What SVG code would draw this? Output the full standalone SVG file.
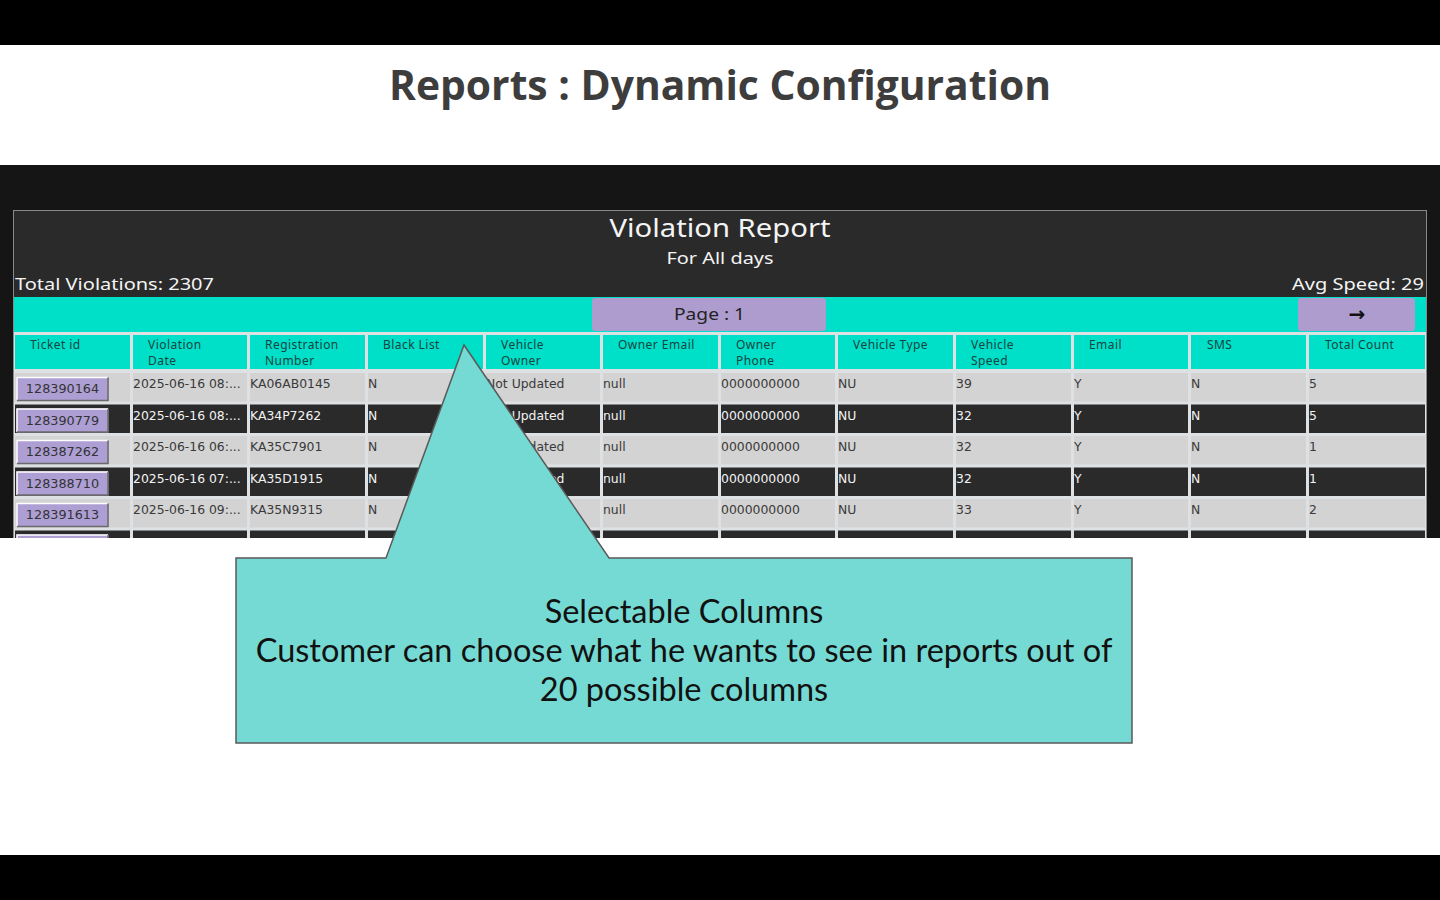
<svg xmlns="http://www.w3.org/2000/svg" width="1440" height="900" viewBox="0 0 1440 900">
<style>
.title{font-family:"Open Sans","DejaVu Sans",sans-serif;font-weight:700;font-size:41px;fill:#3d3d3d}
.hdr{font-family:"Noto Sans","Lato",sans-serif;font-size:12px;letter-spacing:0.45px;fill:#16453f}
.lt{font-family:"DejaVu Sans",sans-serif;font-size:12.4px;fill:#3a3a3a}
.dk{font-family:"DejaVu Sans",sans-serif;font-size:12.4px;fill:#f2f2f2}
.btn{font-family:"DejaVu Sans",sans-serif;font-size:12.8px;fill:#333;text-anchor:middle}
.wh{font-family:"Noto Sans","Lato",sans-serif;fill:#f4f4f4}
.cl{fill:#d3d3d3}
.cd{fill:#2a2a2a}
.th{fill:#00dfc8}
.call{font-family:"Lato","Noto Sans",sans-serif;font-size:32.5px;fill:#111;text-anchor:middle}
</style>
<defs>
<clipPath id="shot"><rect x="0" y="165" width="1440" height="373"/></clipPath>
<g id="button">
<rect x="0" y="0" width="92" height="24" fill="#ad9fd4"/>
<path d="M0.5 23.5 V0.5 H91.5" fill="none" stroke="#ffffff" stroke-width="1.5"/>
<path d="M0.5 23.5 H91.5 V0.5" fill="none" stroke="#6a6a6a" stroke-width="1.5"/>
</g>
</defs>
<rect x="0" y="0" width="1440" height="900" fill="#ffffff"/>
<rect x="0" y="0" width="1440" height="45" fill="#000"/>
<rect x="0" y="855" width="1440" height="45" fill="#000"/>
<text id="title" class="title" x="720" y="100" text-anchor="middle" textLength="662" lengthAdjust="spacingAndGlyphs">Reports : Dynamic Configuration</text>

<g id="screenshot" clip-path="url(#shot)">
<rect x="0" y="165" width="1440" height="373" fill="#151515"/>
<rect x="13.5" y="210.5" width="1413" height="340" fill="#2a2a2a" stroke="#8a8a8a" stroke-width="1"/>
<text class="wh" x="720" y="237" font-size="25" text-anchor="middle" textLength="221" lengthAdjust="spacingAndGlyphs">Violation Report</text>
<text class="wh" x="720" y="264" font-size="16" text-anchor="middle" textLength="107" lengthAdjust="spacingAndGlyphs">For All days</text>
<text class="wh" x="15" y="290" font-size="17" textLength="199" lengthAdjust="spacingAndGlyphs">Total Violations: 2307</text>
<text class="wh" x="1292" y="290" font-size="17" textLength="132" lengthAdjust="spacingAndGlyphs">Avg Speed: 29</text>
<rect x="14" y="297" width="1412" height="35" class="th"/>
<rect x="592" y="298" width="234" height="33" rx="3" fill="#ae9ccf"/>
<text x="674" y="320" font-family="'Noto Sans',Lato,sans-serif" font-size="16.5" fill="#222" textLength="71" lengthAdjust="spacingAndGlyphs">Page : 1</text>
<rect x="1298" y="298" width="117" height="33" rx="3" fill="#ae9ccf"/>
<text x="1357" y="321" font-family="'DejaVu Sans',sans-serif" font-size="20" font-weight="700" fill="#111" text-anchor="middle">→</text>
<rect x="14" y="332" width="1412" height="210" fill="#dde1e4"/>

<g id="headers">
<rect x="15" y="335" width="115" height="34" class="th"/>
<rect x="133" y="335" width="114" height="34" class="th"/>
<rect x="250" y="335" width="115" height="34" class="th"/>
<rect x="368" y="335" width="115" height="34" class="th"/>
<rect x="486" y="335" width="114" height="34" class="th"/>
<rect x="603" y="335" width="115" height="34" class="th"/>
<rect x="721" y="335" width="114" height="34" class="th"/>
<rect x="838" y="335" width="115" height="34" class="th"/>
<rect x="956" y="335" width="115" height="34" class="th"/>
<rect x="1074" y="335" width="114" height="34" class="th"/>
<rect x="1191" y="335" width="115" height="34" class="th"/>
<rect x="1309" y="335" width="116" height="34" class="th"/>
<text class="hdr" x="30" y="349">Ticket id</text>
<text class="hdr" x="148" y="349">Violation</text><text class="hdr" x="148" y="365">Date</text>
<text class="hdr" x="265" y="349">Registration</text><text class="hdr" x="265" y="365">Number</text>
<text class="hdr" x="383" y="349">Black List</text>
<text class="hdr" x="501" y="349">Vehicle</text><text class="hdr" x="501" y="365">Owner</text>
<text class="hdr" x="618" y="349">Owner Email</text>
<text class="hdr" x="736" y="349">Owner</text><text class="hdr" x="736" y="365">Phone</text>
<text class="hdr" x="853" y="349">Vehicle Type</text>
<text class="hdr" x="971" y="349">Vehicle</text><text class="hdr" x="971" y="365">Speed</text>
<text class="hdr" x="1089" y="349">Email</text>
<text class="hdr" x="1207" y="349">SMS</text>
<text class="hdr" x="1325" y="349">Total Count</text>
</g>

<g id="row1">
<rect x="15" y="373" width="115" height="28.5" class="cl"/><rect x="133" y="373" width="114" height="28.5" class="cl"/><rect x="250" y="373" width="115" height="28.5" class="cl"/><rect x="368" y="373" width="115" height="28.5" class="cl"/><rect x="486" y="373" width="114" height="28.5" class="cl"/><rect x="603" y="373" width="115" height="28.5" class="cl"/><rect x="721" y="373" width="114" height="28.5" class="cl"/><rect x="838" y="373" width="115" height="28.5" class="cl"/><rect x="956" y="373" width="115" height="28.5" class="cl"/><rect x="1074" y="373" width="114" height="28.5" class="cl"/><rect x="1191" y="373" width="115" height="28.5" class="cl"/><rect x="1309" y="373" width="116" height="28.5" class="cl"/>
<use href="#button" x="16.5" y="377"/>
<text class="btn" x="62.5" y="393">128390164</text>
<text class="lt" x="133" y="388">2025-06-16 08:...</text><text class="lt" x="250" y="388">KA06AB0145</text><text class="lt" x="368" y="388">N</text><text class="lt" x="486" y="388">Not Updated</text><text class="lt" x="603" y="388">null</text><text class="lt" x="721" y="388">0000000000</text><text class="lt" x="838" y="388">NU</text><text class="lt" x="956" y="388">39</text><text class="lt" x="1074" y="388">Y</text><text class="lt" x="1191" y="388">N</text><text class="lt" x="1309" y="388">5</text>
</g>

<g id="row2">
<rect x="15" y="404.5" width="115" height="28.5" class="cd"/><rect x="133" y="404.5" width="114" height="28.5" class="cd"/><rect x="250" y="404.5" width="115" height="28.5" class="cd"/><rect x="368" y="404.5" width="115" height="28.5" class="cd"/><rect x="486" y="404.5" width="114" height="28.5" class="cd"/><rect x="603" y="404.5" width="115" height="28.5" class="cd"/><rect x="721" y="404.5" width="114" height="28.5" class="cd"/><rect x="838" y="404.5" width="115" height="28.5" class="cd"/><rect x="956" y="404.5" width="115" height="28.5" class="cd"/><rect x="1074" y="404.5" width="114" height="28.5" class="cd"/><rect x="1191" y="404.5" width="115" height="28.5" class="cd"/><rect x="1309" y="404.5" width="116" height="28.5" class="cd"/>
<use href="#button" x="16.5" y="408.5"/>
<text class="btn" x="62.5" y="424.5">128390779</text>
<text class="dk" x="133" y="419.5">2025-06-16 08:...</text><text class="dk" x="250" y="419.5">KA34P7262</text><text class="dk" x="368" y="419.5">N</text><text class="dk" x="486" y="419.5">Not Updated</text><text class="dk" x="603" y="419.5">null</text><text class="dk" x="721" y="419.5">0000000000</text><text class="dk" x="838" y="419.5">NU</text><text class="dk" x="956" y="419.5">32</text><text class="dk" x="1074" y="419.5">Y</text><text class="dk" x="1191" y="419.5">N</text><text class="dk" x="1309" y="419.5">5</text>
</g>

<g id="row3">
<rect x="15" y="436" width="115" height="28.5" class="cl"/><rect x="133" y="436" width="114" height="28.5" class="cl"/><rect x="250" y="436" width="115" height="28.5" class="cl"/><rect x="368" y="436" width="115" height="28.5" class="cl"/><rect x="486" y="436" width="114" height="28.5" class="cl"/><rect x="603" y="436" width="115" height="28.5" class="cl"/><rect x="721" y="436" width="114" height="28.5" class="cl"/><rect x="838" y="436" width="115" height="28.5" class="cl"/><rect x="956" y="436" width="115" height="28.5" class="cl"/><rect x="1074" y="436" width="114" height="28.5" class="cl"/><rect x="1191" y="436" width="115" height="28.5" class="cl"/><rect x="1309" y="436" width="116" height="28.5" class="cl"/>
<use href="#button" x="16.5" y="440"/>
<text class="btn" x="62.5" y="456">128387262</text>
<text class="lt" x="133" y="451">2025-06-16 06:...</text><text class="lt" x="250" y="451">KA35C7901</text><text class="lt" x="368" y="451">N</text><text class="lt" x="486" y="451">Not Updated</text><text class="lt" x="603" y="451">null</text><text class="lt" x="721" y="451">0000000000</text><text class="lt" x="838" y="451">NU</text><text class="lt" x="956" y="451">32</text><text class="lt" x="1074" y="451">Y</text><text class="lt" x="1191" y="451">N</text><text class="lt" x="1309" y="451">1</text>
</g>

<g id="row4">
<rect x="15" y="467.5" width="115" height="28.5" class="cd"/><rect x="133" y="467.5" width="114" height="28.5" class="cd"/><rect x="250" y="467.5" width="115" height="28.5" class="cd"/><rect x="368" y="467.5" width="115" height="28.5" class="cd"/><rect x="486" y="467.5" width="114" height="28.5" class="cd"/><rect x="603" y="467.5" width="115" height="28.5" class="cd"/><rect x="721" y="467.5" width="114" height="28.5" class="cd"/><rect x="838" y="467.5" width="115" height="28.5" class="cd"/><rect x="956" y="467.5" width="115" height="28.5" class="cd"/><rect x="1074" y="467.5" width="114" height="28.5" class="cd"/><rect x="1191" y="467.5" width="115" height="28.5" class="cd"/><rect x="1309" y="467.5" width="116" height="28.5" class="cd"/>
<use href="#button" x="16.5" y="471.5"/>
<text class="btn" x="62.5" y="487.5">128388710</text>
<text class="dk" x="133" y="482.5">2025-06-16 07:...</text><text class="dk" x="250" y="482.5">KA35D1915</text><text class="dk" x="368" y="482.5">N</text><text class="dk" x="486" y="482.5">Not Updated</text><text class="dk" x="603" y="482.5">null</text><text class="dk" x="721" y="482.5">0000000000</text><text class="dk" x="838" y="482.5">NU</text><text class="dk" x="956" y="482.5">32</text><text class="dk" x="1074" y="482.5">Y</text><text class="dk" x="1191" y="482.5">N</text><text class="dk" x="1309" y="482.5">1</text>
</g>

<g id="row5">
<rect x="15" y="499" width="115" height="28.5" class="cl"/><rect x="133" y="499" width="114" height="28.5" class="cl"/><rect x="250" y="499" width="115" height="28.5" class="cl"/><rect x="368" y="499" width="115" height="28.5" class="cl"/><rect x="486" y="499" width="114" height="28.5" class="cl"/><rect x="603" y="499" width="115" height="28.5" class="cl"/><rect x="721" y="499" width="114" height="28.5" class="cl"/><rect x="838" y="499" width="115" height="28.5" class="cl"/><rect x="956" y="499" width="115" height="28.5" class="cl"/><rect x="1074" y="499" width="114" height="28.5" class="cl"/><rect x="1191" y="499" width="115" height="28.5" class="cl"/><rect x="1309" y="499" width="116" height="28.5" class="cl"/>
<use href="#button" x="16.5" y="503"/>
<text class="btn" x="62.5" y="519">128391613</text>
<text class="lt" x="133" y="514">2025-06-16 09:...</text><text class="lt" x="250" y="514">KA35N9315</text><text class="lt" x="368" y="514">N</text><text class="lt" x="603" y="514">null</text><text class="lt" x="721" y="514">0000000000</text><text class="lt" x="838" y="514">NU</text><text class="lt" x="956" y="514">33</text><text class="lt" x="1074" y="514">Y</text><text class="lt" x="1191" y="514">N</text><text class="lt" x="1309" y="514">2</text>
</g>

<g id="row6">
<rect x="15" y="530.5" width="115" height="28.5" class="cd"/><rect x="133" y="530.5" width="114" height="28.5" class="cd"/><rect x="250" y="530.5" width="115" height="28.5" class="cd"/><rect x="368" y="530.5" width="115" height="28.5" class="cd"/><rect x="486" y="530.5" width="114" height="28.5" class="cd"/><rect x="603" y="530.5" width="115" height="28.5" class="cd"/><rect x="721" y="530.5" width="114" height="28.5" class="cd"/><rect x="838" y="530.5" width="115" height="28.5" class="cd"/><rect x="956" y="530.5" width="115" height="28.5" class="cd"/><rect x="1074" y="530.5" width="114" height="28.5" class="cd"/><rect x="1191" y="530.5" width="115" height="28.5" class="cd"/><rect x="1309" y="530.5" width="116" height="28.5" class="cd"/>
<use href="#button" x="16.5" y="534.5"/>
</g>
</g>

<g id="callout">
<polygon points="236,558 386,558 464,345 609,558 1132,558 1132,743 236,743" fill="#76dad4" stroke="#5a5a5a" stroke-width="1.5" stroke-linejoin="miter"/>
<text class="call" x="684" y="623">Selectable Columns</text>
<text class="call" x="684" y="662">Customer can choose what he wants to see in reports out of</text>
<text class="call" x="684" y="701">20 possible columns</text>
</g>
</svg>
